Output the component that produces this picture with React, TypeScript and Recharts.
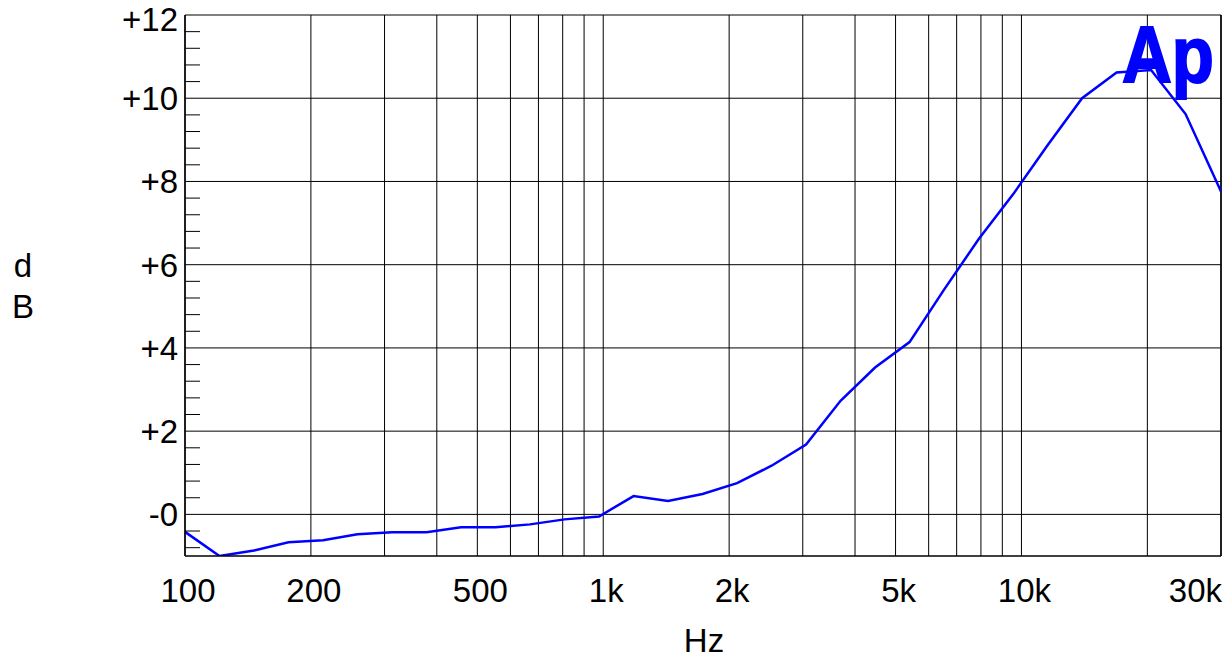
import { LineChart, Line, XAxis, YAxis, CartesianGrid, ReferenceLine } from 'recharts';

// frequency points (Hz) of the sweep
const FREQS = [
  100, 120.9, 146.2, 176.8, 213.8, 258.5, 312.6, 378, 457.1, 552.7, 668.3,
  808.1, 977.2, 1181.6, 1428.8, 1727.7, 2089.1, 2526.2, 3054.6, 3693.6,
  4466.4, 5400.8, 6530.7, 7897, 9549, 11547, 13962, 16883, 20415, 24686, 30000,
];

// response (dB)
const LEVELS = [
  -0.42, -1.0, -0.87, -0.67, -0.62, -0.48, -0.43, -0.43, -0.31, -0.31, -0.24,
  -0.12, -0.05, 0.44, 0.32, 0.49, 0.75, 1.17, 1.68, 2.73,
  3.53, 4.14, 5.4, 6.61, 7.69, 8.87, 10.0, 10.62, 10.68, 9.62, 7.76,
];

const X_GRID = [
  100, 200, 300, 400, 500, 600, 700, 800, 900,
  1000, 2000, 3000, 4000, 5000, 6000, 7000, 8000, 9000,
  10000, 20000, 30000,
];
const X_LABEL_VALUES = [100, 200, 500, 1000, 2000, 5000, 10000, 30000];
const X_LABEL_TEXT = ['100', '200', '500', '1k', '2k', '5k', '10k', '30k'];

const Y_MAJOR = [12, 10, 8, 6, 4, 2, 0];
const Y_MAJOR_TEXT = ['+12', '+10', '+8', '+6', '+4', '+2', '-0'];
const Y_MINOR = [
  -0.8, -0.4, 0.4, 0.8, 1.2, 1.6, 2.4, 2.8, 3.2, 3.6, 4.4, 4.8, 5.2, 5.6,
  6.4, 6.8, 7.2, 7.6, 8.4, 8.8, 9.2, 9.6, 10.4, 10.8, 11.2, 11.6,
];

const FONT = '"Liberation Sans", Arial, sans-serif';
const FONT_SIZE = 33;
const LINE_BLUE = '#0000ff';

const data = FREQS.map((f, i) => ({ f, db: LEVELS[i] }));

// eslint-disable-next-line @typescript-eslint/no-explicit-any
const XTick = ({ x, y, payload }: any) => {
  const i = X_LABEL_VALUES.indexOf(payload.value);
  if (i < 0) return <g />;
  const last = i === X_LABEL_VALUES.length - 1;
  return (
    <text
      x={last ? x + 1 : x + 3}
      y={y + 46}
      textAnchor={last ? 'end' : 'middle'}
      fontSize={FONT_SIZE}
      fontFamily={FONT}
      fill="#000"
    >
      {X_LABEL_TEXT[i]}
    </text>
  );
};

// eslint-disable-next-line @typescript-eslint/no-explicit-any
const YTick = ({ x, y, payload }: any) => {
  const i = Y_MAJOR.indexOf(payload.value);
  if (i >= 0) {
    // top label sits a little lower so it stays inside the page
    const dy = i === 0 ? 16 : 12;
    return (
      <text x={x - 7} y={y} dy={dy} textAnchor="end" fontSize={FONT_SIZE} fontFamily={FONT} fill="#000">
        {Y_MAJOR_TEXT[i]}
      </text>
    );
  }
  return <line x1={x} x2={x + 15} y1={y} y2={y} stroke="#000" strokeWidth={1} />;
};

// eslint-disable-next-line @typescript-eslint/no-explicit-any
const YLabel = ({ viewBox }: any) => {
  const cx = viewBox.x + 23;
  const cy = viewBox.y + viewBox.height / 2;
  return (
    <text x={cx} textAnchor="middle" fontSize={FONT_SIZE} fontFamily={FONT} fill="#000">
      <tspan x={cx} y={cy - 9}>d</tspan>
      <tspan x={cx} y={cy + 32}>B</tspan>
    </text>
  );
};

// eslint-disable-next-line @typescript-eslint/no-explicit-any
const XLabel = ({ viewBox }: any) => (
  <text
    x={viewBox.x + viewBox.width / 2 + 1}
    y={viewBox.y + 96}
    textAnchor="middle"
    fontSize={FONT_SIZE}
    fontFamily={FONT}
    fill="#000"
  >
    Hz
  </text>
);

export default function App() {
  return (
    <div style={{ position: 'absolute', left: 0, top: 0, width: 1228, height: 660, background: '#fff' }}>
      <LineChart width={1228} height={660} data={data} margin={{ top: 15, right: 7, left: 0, bottom: 0 }}>
        <CartesianGrid horizontal={false} stroke="#000" strokeWidth={1} />
        <XAxis
          dataKey="f"
          type="number"
          scale="log"
          domain={[100, 30000]}
          allowDataOverflow
          ticks={X_GRID}
          interval={0}
          tick={<XTick />}
          tickLine={false}
          tickSize={0}
          tickMargin={0}
          axisLine={{ stroke: '#000', strokeWidth: 1.5 }}
          height={104}
          label={{ content: <XLabel /> }}
        />
        <YAxis
          type="number"
          domain={[-1, 12]}
          allowDataOverflow
          ticks={[...Y_MAJOR, ...Y_MINOR]}
          interval={0}
          tick={<YTick />}
          tickLine={false}
          tickSize={0}
          tickMargin={0}
          axisLine={{ stroke: '#000', strokeWidth: 1.5 }}
          width={185}
          label={{ content: <YLabel /> }}
        />
        {Y_MAJOR.map((v) => (
          <ReferenceLine key={v} y={v} stroke="#000" strokeWidth={1} />
        ))}
        <ReferenceLine x={30000} stroke="#000" strokeWidth={1.5} />
        <Line
          type="linear"
          dataKey="db"
          stroke={LINE_BLUE}
          strokeWidth={2.5}
          dot={false}
          activeDot={false}
          isAnimationActive={false}
        />
      </LineChart>
      <svg
        width={1228}
        height={660}
        style={{ position: 'absolute', left: 0, top: 0, pointerEvents: 'none' }}
      >
        <text
          x={1122}
          y={82}
          fontSize={80}
          fontWeight="bold"
          fontFamily={FONT}
          fill={LINE_BLUE}
          stroke={LINE_BLUE}
          strokeWidth={2}
          textLength={92}
          lengthAdjust="spacingAndGlyphs"
        >
          Ap
        </text>
      </svg>
    </div>
  );
}
